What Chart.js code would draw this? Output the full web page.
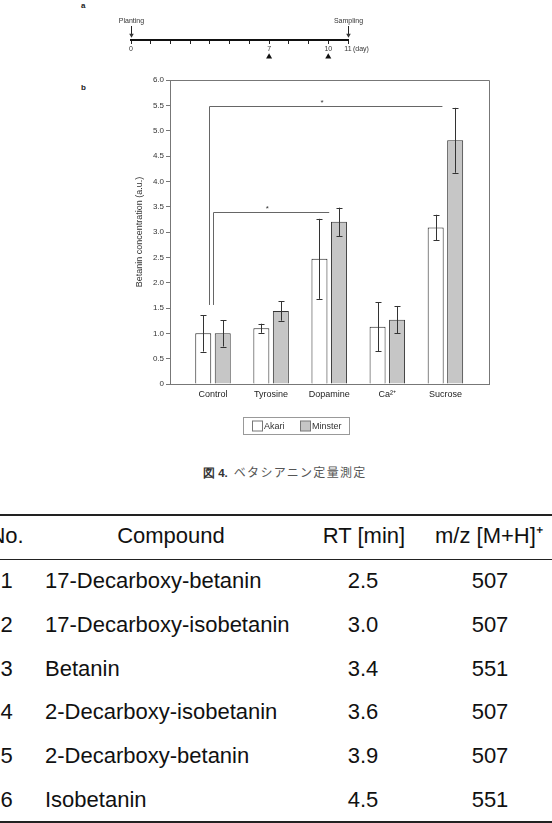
<!DOCTYPE html>
<html>
<head>
<meta charset="utf-8">
<script src="https://cdn.jsdelivr.net/npm/chart.js@4.4.0/dist/chart.umd.min.js"></script>
<style>
  html, body { margin: 0; padding: 0; background: #fff; }
  body { width: 552px; height: 823px; position: relative; overflow: hidden;
         font-family: "Liberation Sans", Arial, sans-serif; }
  canvas { position: absolute; left: 0; }
  #timeline { top: 0; }
  #chart { top: 70px; }
  .panel { position: absolute; font-weight: bold; font-size: 8px; color: #222; }
  #caption { position: absolute; left: 203px; top: 464px; font-size: 12px; line-height: 15px;
             font-family: "Noto Sans CJK JP", sans-serif; color: #555; white-space: nowrap; }
  #caption b { color: #333; font-family: "Liberation Sans", Arial, sans-serif; font-size: 11.5px; margin-right: 6px; }
  #caption span { letter-spacing: 1.3px; }
  .rule { position: absolute; left: 0; width: 552px; background: #222; }
  .cell { position: absolute; font-size: 22px; line-height: 24px; color: #111; white-space: nowrap; }
</style>
</head>
<body>
<div class="panel" style="left:81px; top:1px;">a</div>
<div class="panel" style="left:81px; top:83px;">b</div>
<canvas id="timeline" width="552" height="72"></canvas>
<canvas id="chart" width="552" height="380"></canvas>
<div id="caption"><b>図 4.</b><span>ベタシアニン定量測定</span></div>
<div id="table"></div>
<script>
"use strict";

Chart.defaults.font.family = '"Liberation Sans", Arial, sans-serif';

// panel a: timeline
const eventLabels = ["Planting", "Sampling"];
const eventDays = [0, 11];
const treatmentDays = [7, 10];
const dayTickLabels = ["0", "", "", "", "", "", "", "7", "", "", "10", "11"];

// panel b: betanin concentration
const categories = ["Control", "Tyrosine", "Dopamine", "Ca²⁺", "Sucrose"];
const akariValues = [1.0, 1.1, 2.47, 1.13, 3.09];
const akariErrors = [0.36, 0.09, 0.79, 0.48, 0.25];
const minsterValues = [1.0, 1.44, 3.2, 1.27, 4.81];
const minsterErrors = [0.26, 0.19, 0.28, 0.27, 0.64];
const seriesNames = ["Akari", "Minster"];

// significance brackets (category index from / to, y level, base)
const bracketFrom = [0, 0];
const bracketTo = [4, 2];
const bracketLevel = [5.49, 3.39];
const bracketBase = [1.56, 1.56];

// compound table
const tableHeader = ["No.", "Compound", "RT [min]", "m/z [M+H]⁺"];
const compoundNo = ["1", "2", "3", "4", "5", "6"];
const compoundNames = ["17-Decarboxy-betanin", "17-Decarboxy-isobetanin", "Betanin",
  "2-Decarboxy-isobetanin", "2-Decarboxy-betanin", "Isobetanin"];
const rtValues = ["2.5", "3.0", "3.4", "3.6", "3.9", "4.5"];
const mzValues = ["507", "507", "551", "507", "507", "551"];

// ---- timeline ----
const timelineExtras = {
  id: "timelineExtras",
  afterDraw(chart) {
    const { ctx } = chart;
    const x = chart.scales.x, y = chart.scales.y;
    ctx.save();
    ctx.fillStyle = "#333";
    ctx.strokeStyle = "#222";
    ctx.lineWidth = 1;
    ctx.font = '7px "Liberation Sans", Arial, sans-serif';
    ctx.textAlign = "center";
    ctx.textBaseline = "middle";
    for (let i = 0; i < eventLabels.length; i++) {
      const px = Math.round(x.getPixelForValue(eventDays[i])) + 0.5;
      ctx.fillText(eventLabels[i], px, y.getPixelForValue(1.0));
      const top = y.getPixelForValue(0.75);
      const tip = y.getPixelForValue(0.12);
      ctx.beginPath();
      ctx.moveTo(px, top);
      ctx.lineTo(px, tip - 3);
      ctx.stroke();
      ctx.beginPath();
      ctx.moveTo(px - 2.3, tip - 4);
      ctx.lineTo(px + 2.3, tip - 4);
      ctx.lineTo(px, tip);
      ctx.closePath();
      ctx.fill();
    }
    ctx.textAlign = "left";
    ctx.fillText("(day)", x.getPixelForValue(11) + 5, y.getPixelForValue(-0.5));
    ctx.restore();
  }
};

new Chart(document.getElementById("timeline"), {
  type: "scatter",
  data: {
    datasets: [{
      data: treatmentDays.map(d => ({ x: d, y: -0.9 })),
      pointStyle: "triangle",
      pointRadius: 3.5,
      backgroundColor: "#111",
      borderColor: "#111",
      borderWidth: 0,
      clip: false
    }]
  },
  options: {
    responsive: false,
    animation: false,
    events: [],
    layout: { padding: { left: 131, right: 204, top: 12, bottom: 0 } },
    plugins: { legend: { display: false }, tooltip: { enabled: false } },
    scales: {
      x: {
        type: "linear",
        min: 0,
        max: 11,
        position: { y: 0 },
        afterBuildTicks: s => { s.ticks = dayTickLabels.map((_, i) => ({ value: i })); },
        ticks: {
          autoSkip: false,
          maxRotation: 0,
          padding: 2,
          color: "#333",
          font: { size: 7 },
          callback: v => dayTickLabels[v]
        },
        grid: { drawOnChartArea: false, tickLength: 3, color: "#222" },
        border: { color: "#111", width: 2 }
      },
      y: { min: -1.5, max: 1.5, display: false }
    }
  },
  plugins: [timelineExtras]
});

// ---- bar chart ----
const chartExtras = {
  id: "chartExtras",
  afterDatasetsDraw(chart) {
    const { ctx, chartArea } = chart;
    const x = chart.scales.x, y = chart.scales.y;
    const errs = [akariErrors, minsterErrors];
    const vals = [akariValues, minsterValues];
    ctx.save();

    // frame top/right
    ctx.strokeStyle = "#777";
    ctx.lineWidth = 1;
    ctx.beginPath();
    ctx.moveTo(chartArea.left, Math.round(chartArea.top) + 0.5);
    ctx.lineTo(Math.round(chartArea.right) + 0.5, Math.round(chartArea.top) + 0.5);
    ctx.lineTo(Math.round(chartArea.right) + 0.5, chartArea.bottom);
    ctx.stroke();

    // error bars
    ctx.strokeStyle = "#333";
    for (let d = 0; d < 2; d++) {
      const meta = chart.getDatasetMeta(d);
      meta.data.forEach((bar, i) => {
        const bx = Math.round(bar.x) + 0.5;
        const hi = y.getPixelForValue(vals[d][i] + errs[d][i]);
        const lo = y.getPixelForValue(vals[d][i] - errs[d][i]);
        ctx.beginPath();
        ctx.moveTo(bx, hi); ctx.lineTo(bx, lo);
        ctx.moveTo(bx - 3, Math.round(hi) + 0.5); ctx.lineTo(bx + 3, Math.round(hi) + 0.5);
        ctx.moveTo(bx - 3, Math.round(lo) + 0.5); ctx.lineTo(bx + 3, Math.round(lo) + 0.5);
        ctx.stroke();
      });
    }

    // significance brackets
    const leftShift = [-4, 0];
    const rightShift = [-3, 0];
    ctx.strokeStyle = "#666";
    ctx.fillStyle = "#333";
    ctx.font = '8px "Liberation Sans", Arial, sans-serif';
    ctx.textAlign = "center";
    ctx.textBaseline = "middle";
    for (let b = 0; b < bracketFrom.length; b++) {
      const x0 = Math.round(x.getPixelForValue(bracketFrom[b]) + leftShift[b]) + 0.5;
      const x1 = x.getPixelForValue(bracketTo[b]) + rightShift[b];
      const yl = Math.round(y.getPixelForValue(bracketLevel[b])) + 0.5;
      const yb = y.getPixelForValue(bracketBase[b]);
      ctx.beginPath();
      ctx.moveTo(x0, yb); ctx.lineTo(x0, yl); ctx.lineTo(x1, yl);
      ctx.stroke();
      ctx.fillText("*", (x0 + x1) / 2 - 4, yl - 4);
    }

    // legend
    const lx = 243, ly = 347.5, lw = 106, lh = 17;
    ctx.strokeStyle = "#999";
    ctx.strokeRect(lx + 0.5, ly, lw, lh);
    ctx.textAlign = "left";
    ctx.font = '9px "Liberation Sans", Arial, sans-serif';
    ctx.fillStyle = "#333";
    const swX = [252.5, 300.5];
    chart.data.datasets.forEach((ds, i) => {
      ctx.fillStyle = ds.backgroundColor;
      ctx.fillRect(swX[i], ly + 3.5, 10, 10);
      ctx.strokeStyle = "#777";
      ctx.strokeRect(swX[i], ly + 3.5, 10, 10);
      ctx.fillStyle = "#333";
      ctx.fillText(ds.label, swX[i] + 11.5, ly + 9);
    });
    ctx.restore();
  }
};

new Chart(document.getElementById("chart"), {
  type: "bar",
  data: {
    datasets: [
      {
        label: seriesNames[0],
        data: categories.map((c, i) => ({ x: i, y: akariValues[i] })),
        backgroundColor: "#ffffff",
        borderColor: "#222",
        borderWidth: 1
      },
      {
        label: seriesNames[1],
        data: categories.map((c, i) => ({ x: i, y: minsterValues[i] })),
        backgroundColor: "#c6c6c6",
        borderColor: "#333",
        borderWidth: 1
      }
    ]
  },
  options: {
    responsive: false,
    animation: false,
    events: [],
    layout: { padding: { left: 120, right: 63, top: 10, bottom: 46 } },
    datasets: { bar: { categoryPercentage: 0.671, barPercentage: 0.82 } },
    plugins: { legend: { display: false }, tooltip: { enabled: false } },
    scales: {
      x: {
        type: "linear",
        min: -0.74,
        max: 4.75,
        offset: false,
        afterBuildTicks: s => { s.ticks = categories.map((c, i) => ({ value: i })); },
        afterFit: s => { s.height = 20; },
        ticks: {
          autoSkip: false,
          maxRotation: 0,
          padding: 5,
          color: "#222",
          font: { size: 9 },
          callback: v => categories[v]
        },
        grid: { offset: false, drawOnChartArea: false, drawTicks: false, color: "#777" },
        border: { color: "#777", width: 1 }
      },
      y: {
        min: 0,
        max: 6,
        afterFit: s => { s.width = 50; },
        ticks: {
          stepSize: 0.5,
          padding: 2,
          color: "#333",
          font: { size: 8 },
          callback: v => (v === 0 ? "0" : v.toFixed(1))
        },
        grid: { drawOnChartArea: false, tickLength: 4, color: "#777" },
        border: { color: "#777", width: 1 },
        title: {
          display: true,
          text: "Betanin concentration (a.u.)",
          color: "#333",
          font: { size: 9 },
          padding: { top: 14, bottom: 0 }
        }
      }
    }
  },
  plugins: [chartExtras]
});

// ---- table ----
const table = document.getElementById("table");
function addCell(text, left, centerY, align, width) {
  const el = document.createElement("div");
  el.className = "cell";
  el.textContent = text;
  el.style.top = (centerY - 12) + "px";
  if (align === "center") {
    el.style.left = (left - width / 2) + "px";
    el.style.width = width + "px";
    el.style.textAlign = "center";
  } else {
    el.style.left = left + "px";
  }
  table.appendChild(el);
}
function addRule(top, h) {
  const el = document.createElement("div");
  el.className = "rule";
  el.style.top = top + "px";
  el.style.height = h + "px";
  table.appendChild(el);
}
addRule(514, 2);
addRule(558.5, 1);
addRule(821, 2);
const headY = 536;
addCell(tableHeader[0], 6.5, headY, "center", 60);
addCell(tableHeader[1], 171, headY, "center", 200);
addCell(tableHeader[2], 364, headY, "center", 140);
addCell(tableHeader[3], 435, headY, "left");
for (let r = 0; r < compoundNames.length; r++) {
  const cy = 580.7 + 43.9 * r;
  addCell(compoundNo[r], 6.5, cy, "center", 40);
  addCell(compoundNames[r], 45, cy, "left");
  addCell(rtValues[r], 363, cy, "center", 80);
  addCell(mzValues[r], 490, cy, "center", 80);
}
</script>
</body>
</html>
